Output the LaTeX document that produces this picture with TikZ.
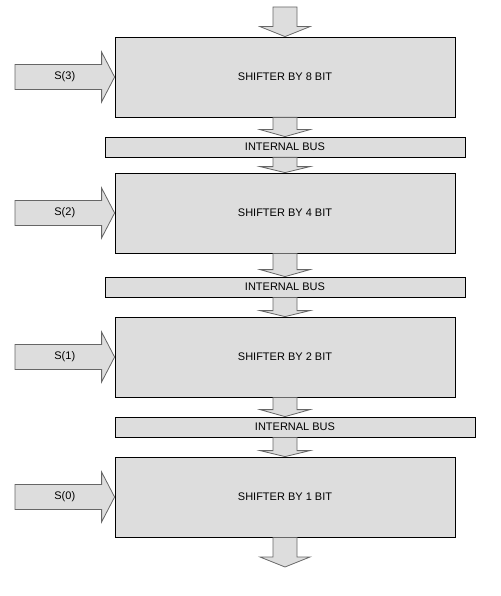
\documentclass[tikz,border=0pt]{standalone}
\usepackage{fontspec}
\setmainfont{Liberation Sans}
\usetikzlibrary{calc}

\definecolor{shgray}{HTML}{DDDDDD}
\tikzset{
  shifter/.style={draw=black, fill=shgray, line width=0.8pt, minimum width=340pt, minimum height=80pt, inner sep=0pt, font=\fontsize{11}{13}\selectfont},
  bus/.style={shifter, minimum width=360pt, minimum height=20pt},
  fat/.style={draw=black!60, fill=shgray, line width=0.8pt, line join=miter},
  sel/.style={inner sep=0pt, font=\fontsize{11}{13}\selectfont},
}
% fat arrow pointing down: from, to, head length
\newcommand{\fatdown}[3]{%
  \draw[fat] let \p1=(#1), \p2=(#2) in
    (\x2-12pt,\y1) -- (\x2+12pt,\y1) -- (\x2+12pt,\y2+#3) -- (\x2+25pt,\y2+#3)
    -- (\x2,\y2) -- (\x2-25pt,\y2+#3) -- (\x2-12pt,\y2+#3) -- cycle;}
% fat arrow pointing right: from, to
\newcommand{\fatright}[2]{%
  \draw[fat] let \p1=(#1), \p2=(#2) in
    (\x1,\y2+12.5pt) -- (\x2-13pt,\y2+12.5pt) -- (\x2-13pt,\y2+25pt) -- (\x2,\y2)
    -- (\x2-13pt,\y2-25pt) -- (\x2-13pt,\y2-12.5pt) -- (\x1,\y2-12.5pt) -- cycle;}

\begin{document}
\begin{tikzpicture}[x=1pt, y=-1pt]
\useasboundingbox (0,0) rectangle (500,596);

% shifter stages
\node[shifter] (sh8) at (285,77) {SHIFTER BY 8 BIT};
\node[bus] (bus1) at (285,147) {INTERNAL BUS};
\node[shifter] (sh4) at (285,213) {SHIFTER BY 4 BIT};
\node[bus] (bus2) at (285,287) {INTERNAL BUS};
\node[shifter] (sh2) at (285,357) {SHIFTER BY 2 BIT};
\node[bus] (bus3) at (295,427) {INTERNAL BUS};
\node[shifter] (sh1) at (285,497) {SHIFTER BY 1 BIT};

\coordinate (din) at (285,7);
\coordinate (dout) at (285,567);
\coordinate (s3in) at (15,77);
\coordinate (s2in) at (15,213);
\coordinate (s1in) at (15,357);
\coordinate (s0in) at (15,497);

% data path
\fatdown{din}{sh8.north}{10pt}
\fatdown{sh8.south}{bus1.north}{7pt}
\fatdown{bus1.south}{sh4.north}{6pt}
\fatdown{sh4.south}{bus2.north}{7pt}
\fatdown{bus2.south}{sh2.north}{6pt}
\fatdown{sh2.south}{sh2.south |- bus3.north}{7pt}
\fatdown{bus3.south}{sh1.north}{6pt}
\fatdown{sh1.south}{dout}{10pt}

% select inputs
\fatright{s3in}{sh8.west}
\fatright{s2in}{sh4.west}
\fatright{s1in}{sh2.west}
\fatright{s0in}{sh1.west}
\node[sel] (sel3) at ($(s3in)!0.5!(sh8.west)$) {S(3)};
\node[sel] (sel2) at ($(s2in)!0.5!(sh4.west)$) {S(2)};
\node[sel] (sel1) at ($(s1in)!0.5!(sh2.west)$) {S(1)};
\node[sel] (sel0) at ($(s0in)!0.5!(sh1.west)$) {S(0)};
\end{tikzpicture}
\end{document}
